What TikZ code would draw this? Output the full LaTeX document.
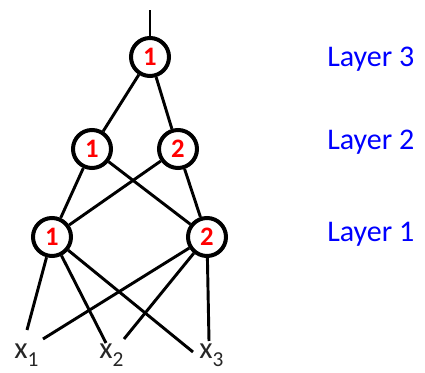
\documentclass[tikz,border=0pt]{standalone}
\usepackage{fontspec}
\setmainfont{Carlito}
\usetikzlibrary{positioning}

\begin{document}
\begin{tikzpicture}[x=0.75pt, y=-0.75pt]
  \colorlet{numcol}{red}
  \colorlet{layercol}{blue}
  \tikzset{
    unit/.style={circle, draw=black, line width=3pt, fill=white,
      minimum size=28.5pt, inner sep=0pt,
      font=\fontsize{20}{20}\selectfont\bfseries, text=numcol},
    input/.style={anchor=base west, inner sep=0pt,
      font=\fontsize{23}{24}\selectfont, text=black!85},
    layer/.style={anchor=base west, inner sep=0pt,
      font=\fontsize{22.5}{24}\selectfont, text=layercol},
    wire/.style={line width=2.2pt, color=black}
  }
  \useasboundingbox (0,0) rectangle (425,373);
  % units, top to bottom
  \node[unit] (top) at (150,57) {1};
  \node[unit] (mida) at (92,149) {1};
  \node[unit] (midb) at (178,149) {2};
  \node[unit] (lowa) at (52,237) {1};
  \node[unit] (lowb) at (207,237) {2};
  % inputs
  \newcommand{\insub}[1]{\raisebox{-0.25em}{\fontsize{16}{16}\selectfont #1}}
  \node[input] (xa) at (14,359) {x\insub{1}};
  \node[input] (xb) at (99,359) {x\insub{2}};
  \node[input] (xc) at (199,359) {x\insub{3}};
  \node[layer] (lthree) at (327,67) {Layer 3};
  \node[layer] (ltwo) at (327,150) {Layer 2};
  \node[layer] (lone) at (327,242) {Layer 1};
  % wire ends above the inputs
  \coordinate (out) at (150,10);
  \coordinate (xa1) at (27,330);
  \coordinate (xa2) at (43,339);
  \coordinate (xb1) at (106,343);
  \coordinate (xb2) at (124,339);
  \coordinate (xc1) at (193,352);
  \coordinate (xc2) at (209,341);
  \draw[wire] (top) -- (out);
  \draw[wire] (top) -- (mida);
  \draw[wire] (top) -- (midb);
  \draw[wire] (mida) -- (lowa);
  \draw[wire] (mida) -- (lowb);
  \draw[wire] (midb) -- (lowa);
  \draw[wire] (midb) -- (lowb);
  \draw[wire] (lowa) -- (xa1);
  \draw[wire] (lowa) -- (xb1);
  \draw[wire] (lowa) -- (xc1);
  \draw[wire] (lowb) -- (xa2);
  \draw[wire] (lowb) -- (xb2);
  \draw[wire] (lowb) -- (xc2);
\end{tikzpicture}
\end{document}
